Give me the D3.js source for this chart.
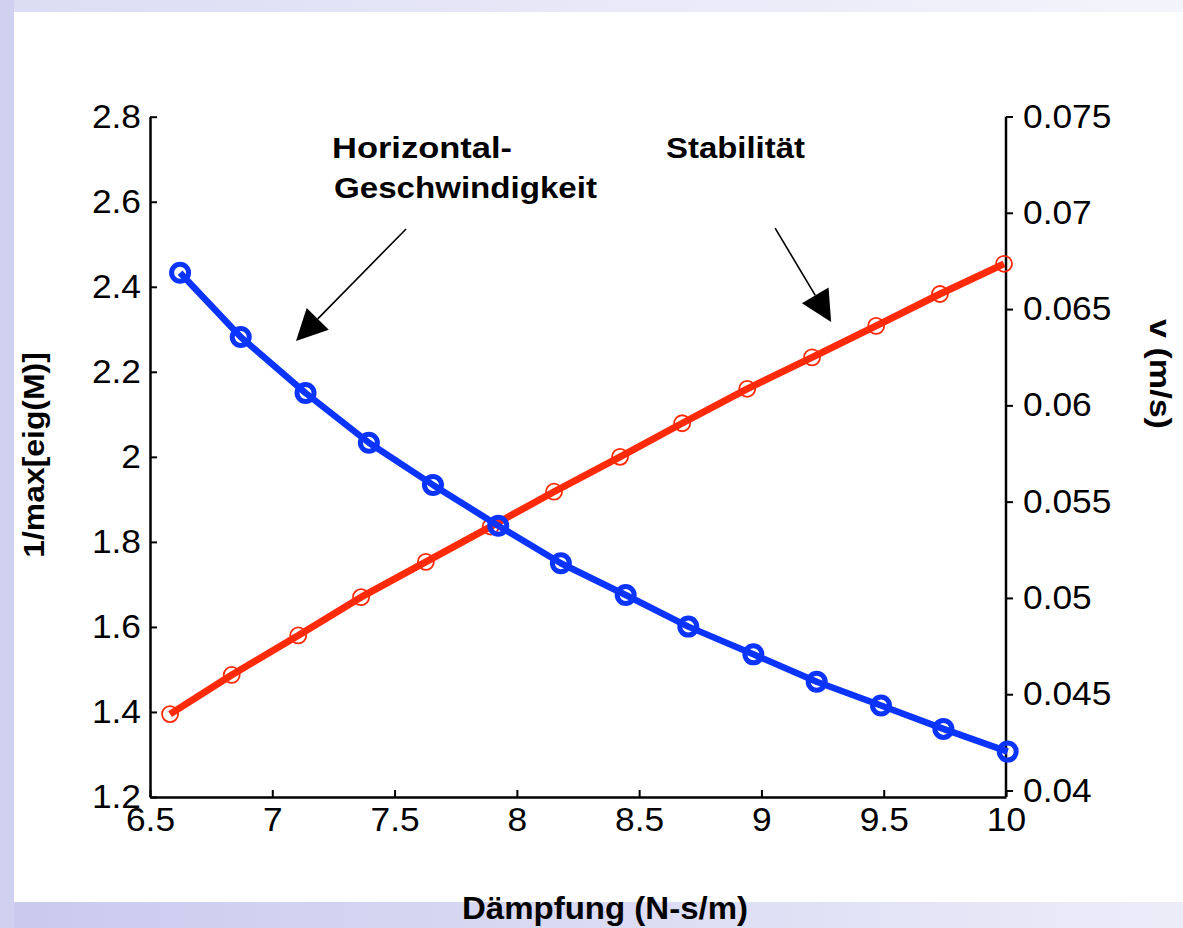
<!DOCTYPE html>
<html>
<head>
<meta charset="utf-8">
<script src="https://cdn.jsdelivr.net/npm/d3@7"></script>
<style>
  body { margin: 0; background: #fff; }
  svg { display: block; font-family: "Liberation Sans", Arial, Helvetica, sans-serif; }
  .tick text { fill: #000; }
</style>
</head>
<body>
<div id="chart"></div>
<script>
// Stabilitaet (red, left axis): damping vs 1/max[eig(M)]
var stabX = [6.582, 6.834, 7.106, 7.363, 7.628, 7.893, 8.152, 8.422, 8.676, 8.942, 9.207, 9.469, 9.730, 9.992];
var stabY = [1.395, 1.487, 1.580, 1.670, 1.753, 1.836, 1.918, 2.000, 2.079, 2.160, 2.234, 2.308, 2.383, 2.454];

// Horizontal-Geschwindigkeit (blue, right axis): damping vs v (m/s)
var velX = [6.623, 6.871, 7.136, 7.395, 7.657, 7.924, 8.180, 8.445, 8.701, 8.967, 9.226, 9.489, 9.744, 10.007];
var velY = [0.06689, 0.06355, 0.06064, 0.05806, 0.05587, 0.05375, 0.05180, 0.05015, 0.04851, 0.04707, 0.04565, 0.04441, 0.04320, 0.04202];

// tick values
var xTicks = [6.5, 7, 7.5, 8, 8.5, 9, 9.5, 10];
var leftTicks = [1.2, 1.4, 1.6, 1.8, 2, 2.2, 2.4, 2.6, 2.8];
var rightTicks = [0.04, 0.045, 0.05, 0.055, 0.06, 0.065, 0.07, 0.075];

var width = 1183,
    height = 928;

var svg = d3.select("#chart").append("svg")
    .attr("width", width)
    .attr("height", height);

// lavender slide frame behind the white figure
var defs = svg.append("defs");
var gBottom = defs.append("linearGradient").attr("id", "gBottom");
gBottom.append("stop").attr("offset", "0%").attr("stop-color", "#c9c9ee");
gBottom.append("stop").attr("offset", "100%").attr("stop-color", "#ececf9");
var gTop = defs.append("linearGradient").attr("id", "gTop");
gTop.append("stop").attr("offset", "0%").attr("stop-color", "#dcdcf4");
gTop.append("stop").attr("offset", "100%").attr("stop-color", "#f4f4fc");

svg.append("rect").attr("width", width).attr("height", height).attr("fill", "url(#gBottom)");
svg.append("rect").attr("width", width).attr("height", 12).attr("fill", "url(#gTop)");
svg.append("rect").attr("width", 14).attr("height", height).attr("fill", "#d0d0f0");
svg.append("rect")
    .attr("x", 14).attr("y", 12)
    .attr("width", width - 14).attr("height", 890)
    .attr("fill", "#fff");

// scales
var x = d3.scaleLinear().domain([6.5, 10]).range([150, 1006]);
var yL = d3.scaleLinear().domain([1.2, 2.8]).range([797, 116.7]);
var yR = d3.scaleLinear().domain([0.04, 0.075]).range([790.5, 116.5]);

var tickFont = 33;

// stretch text a little wider, like the original figure's lettering
function widen(sel, k) {
    sel.each(function() {
        this.setAttribute("textLength", this.getComputedTextLength() * k);
        this.setAttribute("lengthAdjust", "spacingAndGlyphs");
    });
}

// axes
var xAxis = svg.append("g")
    .attr("transform", "translate(0,797)")
    .call(d3.axisBottom(x).tickValues(xTicks).tickFormat(d3.format("")).tickSizeInner(-7).tickSizeOuter(0).tickPadding(11));

var leftAxis = svg.append("g")
    .attr("transform", "translate(150,0)")
    .call(d3.axisLeft(yL).tickValues(leftTicks).tickFormat(d3.format("")).tickSizeInner(-7).tickSizeOuter(0).tickPadding(9));

var rightAxis = svg.append("g")
    .attr("transform", "translate(1006,0)")
    .call(d3.axisRight(yR).tickValues(rightTicks).tickFormat(d3.format("")).tickSizeInner(7).tickSizeOuter(0).tickPadding(10));

[xAxis, leftAxis, rightAxis].forEach(function(a) {
    a.attr("font-size", tickFont).attr("font-family", null);
    a.select(".domain").attr("stroke", "#000").attr("stroke-width", 2.5);
    a.selectAll(".tick line").attr("stroke", "#000").attr("stroke-width", 2);
    widen(a.selectAll(".tick text"), 1.07);
});
// right axis line runs down to the x axis
rightAxis.select(".domain").attr("d", "M0," + yL(2.8) + "V" + yL(1.2));

// line generators
var line = d3.line();

function drawSeries(xs, ys, yScale, color, lineW, r, ringW) {
    var pts = xs.map(function(d, i) { return [x(d), yScale(ys[i])]; });
    svg.append("path")
        .attr("d", line(pts))
        .attr("fill", "none")
        .attr("stroke", color)
        .attr("stroke-width", lineW)
        .attr("stroke-linejoin", "round");
    svg.append("g").selectAll("circle")
        .data(pts)
        .enter().append("circle")
        .attr("cx", function(d) { return d[0]; })
        .attr("cy", function(d) { return d[1]; })
        .attr("r", r)
        .attr("fill", "none")
        .attr("stroke", color)
        .attr("stroke-width", ringW);
}

drawSeries(stabX, stabY, yL, "#ff2a0a", 7, 8, 1.8);
drawSeries(velX, velY, yR, "#0b34ff", 6.5, 8.5, 5);

// annotation arrows (positions in left-axis data units)
function arrow(x0, y0, x1, y1) {
    var p0 = [x(x0), yL(y0)], p1 = [x(x1), yL(y1)];
    var dx = p1[0] - p0[0], dy = p1[1] - p0[1];
    var len = Math.sqrt(dx * dx + dy * dy);
    var ux = dx / len, uy = dy / len;
    var headL = 31, headW = 15.5;
    var bx = p1[0] - ux * headL, by = p1[1] - uy * headL;
    svg.append("line")
        .attr("x1", p0[0]).attr("y1", p0[1])
        .attr("x2", bx).attr("y2", by)
        .attr("stroke", "#000").attr("stroke-width", 1.6);
    svg.append("polygon")
        .attr("points", [
            [p1[0], p1[1]],
            [bx - uy * headW, by + ux * headW],
            [bx + uy * headW, by - ux * headW]
        ].map(function(p) { return p.join(","); }).join(" "))
        .attr("fill", "#000");
}

arrow(7.547, 2.536, 7.097, 2.2725);
arrow(9.056, 2.538, 9.285, 2.317);

// annotation labels
var notes = svg.append("g")
    .attr("font-weight", "bold")
    .attr("font-size", 29);
notes.append("text").attr("x", 332).attr("y", 158).attr("textLength", 180).attr("lengthAdjust", "spacingAndGlyphs").text("Horizontal-");
notes.append("text").attr("x", 334).attr("y", 198).attr("textLength", 263).attr("lengthAdjust", "spacingAndGlyphs").text("Geschwindigkeit");
notes.append("text").attr("x", 666).attr("y", 158).attr("textLength", 139).attr("lengthAdjust", "spacingAndGlyphs").text("Stabilität");

// axis titles
svg.append("text")
    .attr("transform", "translate(605,919)")
    .attr("text-anchor", "middle")
    .attr("font-weight", "bold")
    .attr("font-size", 31)
    .attr("textLength", 286)
    .attr("lengthAdjust", "spacingAndGlyphs")
    .text("Dämpfung (N-s/m)");

var leftTitle = svg.append("text")
    .attr("transform", "translate(44,455) rotate(-90)")
    .attr("text-anchor", "middle")
    .attr("font-weight", "bold")
    .attr("font-size", 29)
    .text("1/max[eig(M)]");
widen(leftTitle, 1.1);

svg.append("text")
    .attr("transform", "translate(1150,374) rotate(90)")
    .attr("text-anchor", "middle")
    .attr("font-weight", "bold")
    .attr("font-size", 29)
    .attr("textLength", 110)
    .attr("lengthAdjust", "spacingAndGlyphs")
    .text("v (m/s)");
</script>
</body>
</html>
